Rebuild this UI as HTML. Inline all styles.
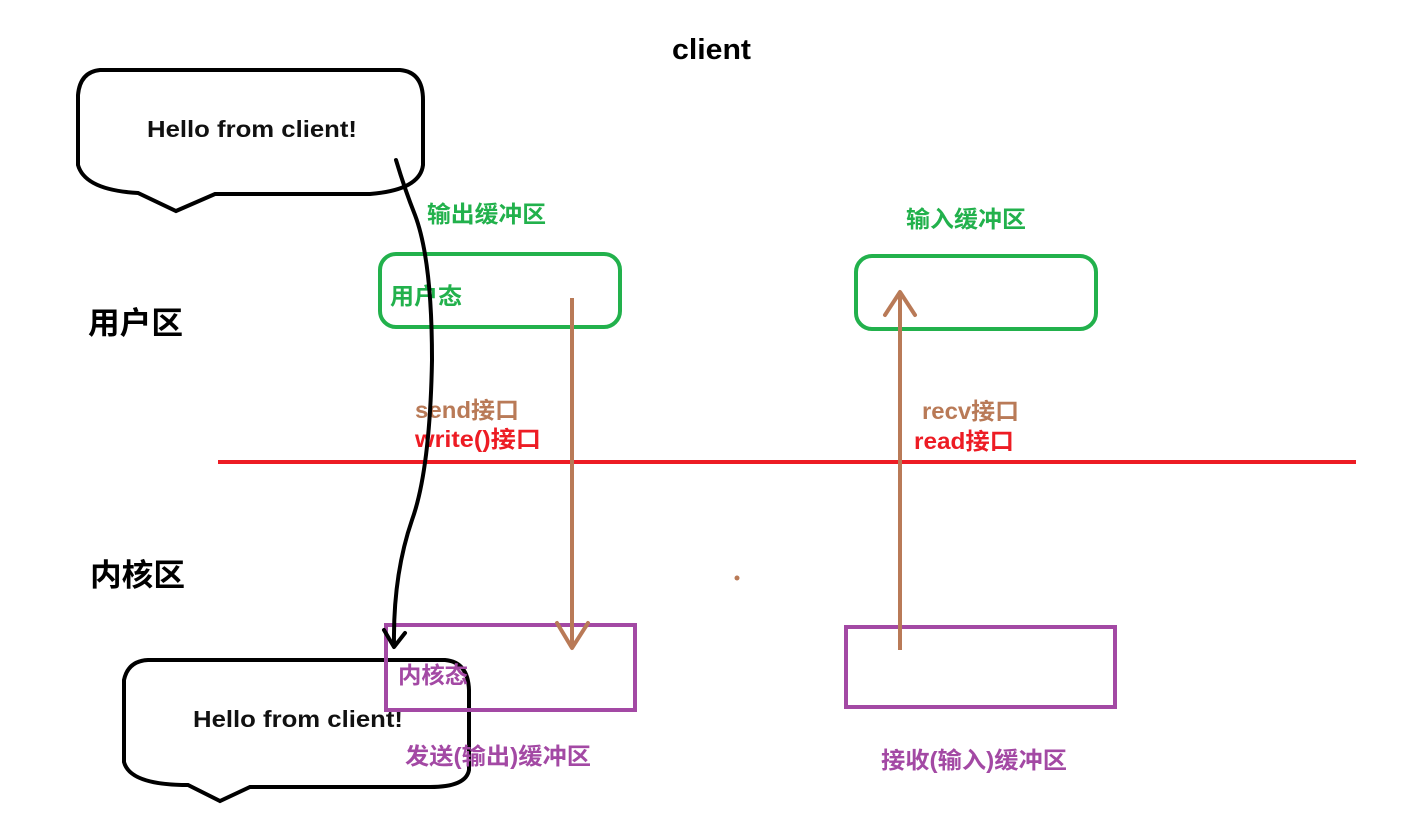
<!DOCTYPE html>
<html><head><meta charset="utf-8"><style>
html,body{margin:0;padding:0;background:#fff;}
svg{display:block;}
text{font-family:"Liberation Sans","Noto Sans CJK SC",sans-serif;font-weight:bold;}
</style></head><body>
<svg width="1413" height="831" viewBox="0 0 1413 831" xmlns="http://www.w3.org/2000/svg">
<text x="672" y="59" font-size="29" textLength="79" lengthAdjust="spacingAndGlyphs" fill="#000">client</text>
<path d="M100,70 L400,70 Q423,72 423,100 L423,165 Q420,190 370,194 L215,194 L176,211 L138,193 Q85,190 78,165 L78,95 Q80,72 100,70 Z" fill="none" stroke="#000" stroke-width="4"/>
<text x="147" y="137" font-size="23" textLength="210" lengthAdjust="spacingAndGlyphs" fill="#111">Hello from client!</text>
<path d="M148,660 L445,660 Q468,662 469,690 L469,770 Q466,787 430,787 L250,787 L220,801 L188,785 Q130,785 124,762 L124,680 Q128,661 148,660 Z" fill="none" stroke="#000" stroke-width="4"/>
<text x="193" y="727" font-size="23" textLength="210" lengthAdjust="spacingAndGlyphs" fill="#111">Hello from client!</text>
<text x="88" y="334" font-size="31" textLength="95" lengthAdjust="spacingAndGlyphs" fill="#000">用户区</text>
<text x="90" y="586" font-size="31" textLength="95" lengthAdjust="spacingAndGlyphs" fill="#000">内核区</text>
<text x="427" y="222" font-size="23" textLength="119" lengthAdjust="spacingAndGlyphs" fill="#22b14c">输出缓冲区</text>
<text x="906" y="227" font-size="23" textLength="120" lengthAdjust="spacingAndGlyphs" fill="#22b14c">输入缓冲区</text>
<rect x="380" y="254" width="240" height="73" rx="16" fill="none" stroke="#22b14c" stroke-width="4"/>
<rect x="856" y="256" width="240" height="73" rx="16" fill="none" stroke="#22b14c" stroke-width="4"/>
<text x="390" y="304" font-size="23" textLength="72" lengthAdjust="spacingAndGlyphs" fill="#22b14c">用户态</text>
<line x1="218" y1="462" x2="1356" y2="462" stroke="#ed1c24" stroke-width="4"/>
<text x="415" y="418" font-size="23" textLength="104" lengthAdjust="spacingAndGlyphs" fill="#b97a57">send接口</text>
<text x="415" y="447" font-size="23" textLength="126" lengthAdjust="spacingAndGlyphs" fill="#ed1c24">write()接口</text>
<text x="922" y="419" font-size="23" textLength="97" lengthAdjust="spacingAndGlyphs" fill="#b97a57">recv接口</text>
<text x="914" y="449" font-size="23" textLength="100" lengthAdjust="spacingAndGlyphs" fill="#ed1c24">read接口</text>
<rect x="386" y="625" width="249" height="85" fill="none" stroke="#a349a4" stroke-width="4"/>
<rect x="846" y="627" width="269" height="80" fill="none" stroke="#a349a4" stroke-width="4"/>
<text x="398" y="683" font-size="23" textLength="70" lengthAdjust="spacingAndGlyphs" fill="#a349a4">内核态</text>
<text x="405" y="764" font-size="23" textLength="186" lengthAdjust="spacingAndGlyphs" fill="#a349a4">发送(输出)缓冲区</text>
<text x="881" y="768" font-size="23" textLength="186" lengthAdjust="spacingAndGlyphs" fill="#a349a4">接收(输入)缓冲区</text>
<line x1="572" y1="298" x2="572" y2="648" stroke="#b97a57" stroke-width="4"/>
<polyline points="557,623 572,648 588,623" fill="none" stroke="#b97a57" stroke-width="4" stroke-linecap="round" stroke-linejoin="round"/>
<line x1="900" y1="650" x2="900" y2="292" stroke="#b97a57" stroke-width="4"/>
<polyline points="885,315 900,292 915,315" fill="none" stroke="#b97a57" stroke-width="4" stroke-linecap="round" stroke-linejoin="round"/>
<circle cx="737" cy="578" r="2.5" fill="#b97a57"/>
<path d="M396,160 Q405,190 415,215 Q432,260 432,360 Q430,470 412,520 Q393,575 394,645" fill="none" stroke="#000" stroke-width="4" stroke-linecap="round"/>
<polyline points="384,630 394,647 405,633" fill="none" stroke="#000" stroke-width="4" stroke-linecap="round" stroke-linejoin="round"/>
</svg>
</body></html>
